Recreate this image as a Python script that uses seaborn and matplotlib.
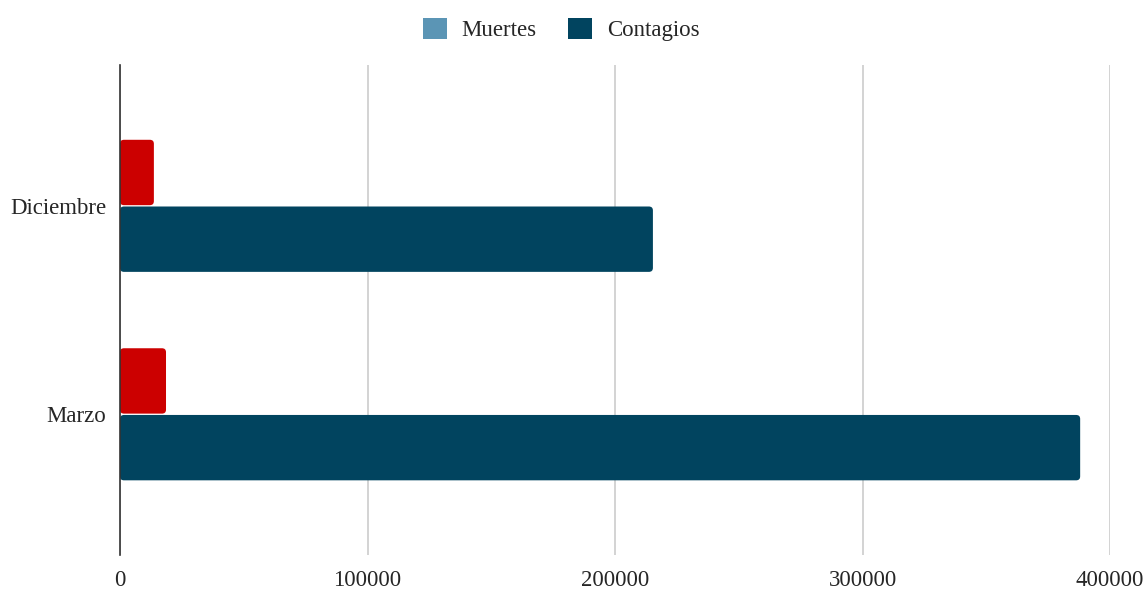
import matplotlib
matplotlib.use("Agg")
import matplotlib.pyplot as plt
import seaborn as sns
import pandas as pd
from matplotlib.patches import Patch, FancyBboxPatch

categories = ["Diciembre", "Marzo"]
muertes = [13700, 18600]
contagios = [215300, 387900]
series = ["Muertes", "Contagios"]
ticks = [0, 100000, 200000, 300000, 400000]

df = pd.DataFrame({
    "Mes": categories * 2,
    "Serie": ["Muertes"] * len(categories) + ["Contagios"] * len(categories),
    "Valor": muertes + contagios,
})

sns.set_theme(style="white")
plt.rcParams["font.family"] = ["Liberation Serif", "DejaVu Serif"]

fig = plt.figure(figsize=(11.48, 5.92), dpi=100)
ax = fig.add_axes([0.1045, 0.0625, 0.8625, 0.8275])

bar_colors = {"Muertes": "#cc0000", "Contagios": "#01445f"}
legend_colors = {"Muertes": "#5b95b5", "Contagios": "#01445f"}

sns.barplot(data=df, y="Mes", x="Valor", hue="Serie", order=categories,
            hue_order=series, palette=bar_colors, orient="h", width=0.64,
            gap=0.02, ax=ax, legend=False, saturation=1)

xmin, xmax = 0, 400000
ymin, ymax = -0.675, 1.675
ax.set_xlim(xmin, xmax)
ax.set_ylim(ymax, ymin)

# rounded corners (about 4 px)
ax_w_px = 0.8625 * 1148
ax_h_px = 0.8275 * 592
rx = 4 * (xmax - xmin) / ax_w_px
ry = 4 * (ymax - ymin) / ax_h_px
for p in list(ax.patches):
    x0, y0 = p.get_x(), p.get_y()
    w, h = p.get_width(), p.get_height()
    fc = p.get_facecolor()
    p.remove()
    fb = FancyBboxPatch((x0, y0), w, h,
                        boxstyle=f"round,pad=0,rounding_size={rx}",
                        mutation_aspect=ry / rx, facecolor=fc,
                        edgecolor="none", zorder=2)
    ax.add_patch(fb)

ax.set_xticks(ticks)
ax.set_xticklabels([str(t) for t in ticks], fontsize=16.5)
ax.tick_params(axis="y", labelsize=16.5, length=0, pad=10)
ax.tick_params(axis="x", length=0, pad=11)
ax.set_xlabel("")
ax.set_ylabel("")
ax.grid(axis="x", color="#cccccc", linewidth=1.2)
ax.set_axisbelow(True)
for s in ["top", "right", "bottom"]:
    ax.spines[s].set_visible(False)
ax.spines["left"].set_color("#333333")
ax.spines["left"].set_linewidth(1.2)
ax.spines["left"].set_zorder(5)

handles = [Patch(facecolor=legend_colors[s], edgecolor="none") for s in series]
fig.legend(handles, series, loc="upper center", bbox_to_anchor=(0.4887, 1.005),
           ncol=2, frameon=False, fontsize=16.5, handlelength=1.05,
           handleheight=1.05, columnspacing=1.35, handletextpad=0.65)

fig.savefig("out.png", dpi=100)
